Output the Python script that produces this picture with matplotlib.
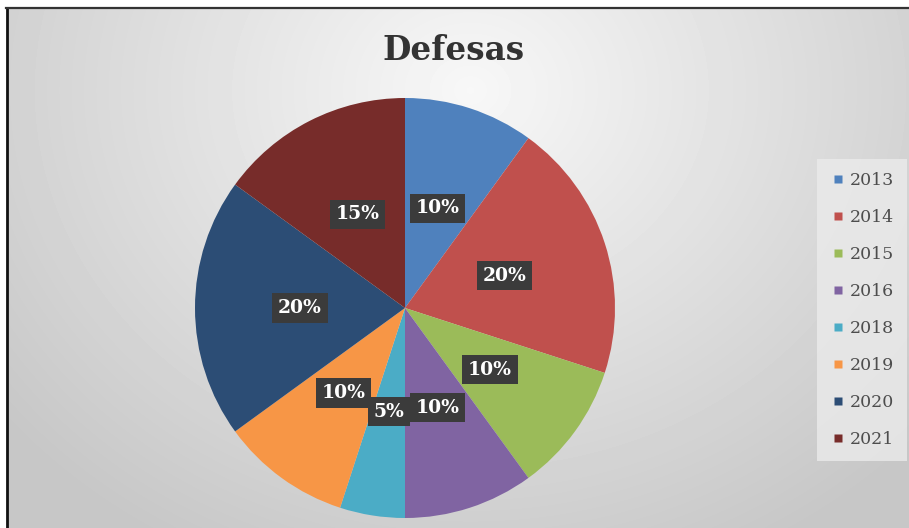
import numpy as np
import matplotlib.pyplot as plt
from matplotlib.lines import Line2D

years = ['2013', '2014', '2015', '2016', '2018', '2019', '2020', '2021']
shares = [10, 20, 10, 10, 5, 10, 20, 15]
colors = ['#4F81BD', '#C0504D', '#9BBB59', '#8064A2',
          '#4BACC6', '#F79646', '#2C4D75', '#772C2A']

W, H = 909, 528
fig = plt.figure(figsize=(W / 100, H / 100), dpi=100)

# grey radial background
bg = fig.add_axes([0, 0, 1, 1])
yy, xx = np.mgrid[0:H, 0:W]
d = np.sqrt(((xx - 470) / 600.0) ** 2 + ((yy - 90) / 520.0) ** 2)
shade = np.clip(0.97 - 0.19 * d, 0.78, 0.97)
bg.imshow(shade, cmap='gray', vmin=0, vmax=1, extent=[0, W, H, 0], aspect='auto')
bg.plot([6.5, 6.5], [8, H], color='#111111', lw=2)
bg.plot([6, W], [8, 8], color='#333333', lw=1.6)
bg.fill_between([0, W], 0, 7, color='white')
bg.fill_between([0, 5.5], 0, H, color='white')
bg.set_xlim(0, W)
bg.set_ylim(H, 0)
bg.axis('off')

fig.text(453 / W, 1 - 50 / H, 'Defesas', ha='center', va='center',
         fontsize=23.5, fontweight='bold', family='DejaVu Serif', color='#333333')

ax = fig.add_axes([(405 - 210) / W, (528 - 518) / H, 420 / W, 420 / H])
wedges, texts, autotexts = ax.pie(shares, colors=colors, startangle=90, counterclock=False,
                                  autopct='%1.0f%%', pctdistance=0.5,
                                  wedgeprops=dict(linewidth=0))
for t in autotexts:
    t.set_color('white')
    t.set_fontweight('bold')
    t.set_family('DejaVu Serif')
    t.set_fontsize(13.5)
    t.set_bbox(dict(boxstyle='square,pad=0.3', facecolor='#3b3b3b', edgecolor='none'))
ax.set_xlim(-1, 1)
ax.set_ylim(-1, 1)
ax.set_aspect('equal')
ax.axis('off')

handles = [Line2D([], [], marker='s', linestyle='none', markersize=6,
                  markerfacecolor=c, markeredgecolor='none') for c in colors]
leg = fig.legend(handles, years, loc='center', bbox_to_anchor=(862 / W, 1 - 310 / H),
                 frameon=True, labelspacing=1.15, handletextpad=0.2,
                 handlelength=0.9, borderpad=0.45, borderaxespad=0,
                 prop={'family': 'DejaVu Serif', 'size': 12.5})
leg.get_frame().set_facecolor('#ebebeb')
leg.get_frame().set_edgecolor('none')
leg.get_frame().set_boxstyle('square')
for t in leg.get_texts():
    t.set_color('#4d4d4d')

fig.savefig('out.png', dpi=100)
